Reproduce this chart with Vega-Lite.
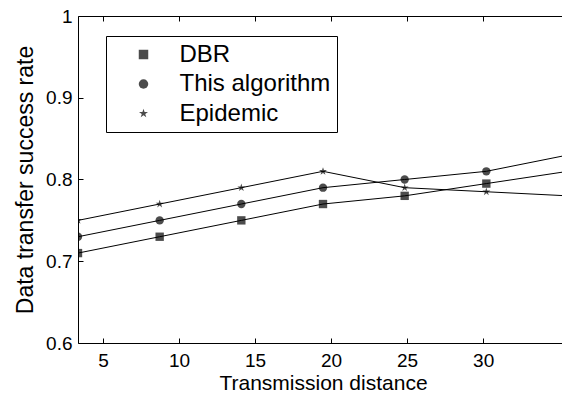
{
  "$schema": "https://vega.github.io/schema/vega-lite/v6.json",
  "width": 490,
  "height": 327,
  "autosize": {"type": "none"},
  "padding": {"left": 78, "top": 16, "right": 0, "bottom": 53},
  "background": "white",
  "config": {
    "font": "Liberation Sans",
    "view": {"stroke": null},
    "axis": {
      "domainColor": "black",
      "domainWidth": 1,
      "tickColor": "black",
      "tickWidth": 1,
      "tickSize": -5,
      "labelColor": "black",
      "titleColor": "black",
      "labelFont": "Liberation Sans",
      "titleFont": "Liberation Sans",
      "titleFontWeight": "normal",
      "grid": false,
      "labelFlush": false
    }
  },
  "data": {
    "values": [
      {"series": "DBR", "x": 3.36, "y": 0.71},
      {"series": "DBR", "x": 8.73, "y": 0.73},
      {"series": "DBR", "x": 14.1, "y": 0.75},
      {"series": "DBR", "x": 19.47, "y": 0.77},
      {"series": "DBR", "x": 24.84, "y": 0.78},
      {"series": "DBR", "x": 30.21, "y": 0.795},
      {"series": "DBR", "x": 35.58, "y": 0.81},
      {"series": "This algorithm", "x": 3.36, "y": 0.73},
      {"series": "This algorithm", "x": 8.73, "y": 0.75},
      {"series": "This algorithm", "x": 14.1, "y": 0.77},
      {"series": "This algorithm", "x": 19.47, "y": 0.79},
      {"series": "This algorithm", "x": 24.84, "y": 0.8},
      {"series": "This algorithm", "x": 30.21, "y": 0.81},
      {"series": "This algorithm", "x": 35.58, "y": 0.83},
      {"series": "Epidemic", "x": 3.36, "y": 0.75},
      {"series": "Epidemic", "x": 8.73, "y": 0.77},
      {"series": "Epidemic", "x": 14.1, "y": 0.79},
      {"series": "Epidemic", "x": 19.47, "y": 0.81},
      {"series": "Epidemic", "x": 24.84, "y": 0.79},
      {"series": "Epidemic", "x": 30.21, "y": 0.785},
      {"series": "Epidemic", "x": 35.58, "y": 0.78}
    ]
  },
  "layer": [
    {
      "mark": {"type": "line", "color": "black", "strokeWidth": 1, "clip": true},
      "encoding": {
        "x": {
          "field": "x", "type": "quantitative",
          "scale": {"domain": [3.36, 35.58], "nice": false, "zero": false},
          "axis": {
            "orient": "bottom",
            "values": [5, 10, 15, 20, 25, 30],
            "labelFontSize": 19,
            "labelPadding": 13,
            "title": "Transmission distance",
            "titleFontSize": 21,
            "titlePadding": 2
          }
        },
        "y": {
          "field": "y", "type": "quantitative",
          "scale": {"domain": [0.6, 1], "nice": false, "zero": false},
          "axis": {
            "values": [0.6, 0.7, 0.8, 0.9, 1],
            "format": ".1~f",
            "labelFontSize": 19,
            "labelPadding": 11,
            "title": "Data transfer success rate",
            "titleFontSize": 23,
            "titlePadding": 8
          }
        },
        "detail": {"field": "series", "type": "nominal"}
      }
    },
    {
      "mark": {"type": "point", "filled": true, "color": "black", "clip": true, "size": 70},
      "encoding": {
        "x": {
          "field": "x", "type": "quantitative",
          "axis": {
            "orient": "top",
            "values": [5, 10, 15, 20, 25, 30],
            "labels": false,
            "title": null
          }
        },
        "y": {"field": "y", "type": "quantitative"},
        "shape": {
          "field": "series", "type": "nominal",
          "scale": {
            "domain": ["DBR", "This algorithm", "Epidemic"],
            "range": ["square", "circle", "M0,-1L0.2245,-0.309L0.9511,-0.309L0.3633,0.118L0.5878,0.809L0,0.382L-0.5878,0.809L-0.3633,0.118L-0.9511,-0.309L-0.2245,-0.309Z"]
          },
          "legend": {
            "orient": "none",
            "legendX": 28,
            "legendY": 20,
            "title": null,
            "strokeColor": "black",
            "fillColor": "white",
            "padding": 6.5,
            "labelFontSize": 24,
            "labelFont": "Liberation Sans",
            "labelColor": "black",
            "labelLimit": 400,
            "symbolOffset": 19,
            "labelOffset": 24,
            "rowPadding": 5.5,
            "symbolSize": 90,
            "symbolFillColor": "black",
            "symbolStrokeColor": "black"
          }
        }
      }
    }
  ],
  "resolve": {"axis": {"x": "independent"}}
}
